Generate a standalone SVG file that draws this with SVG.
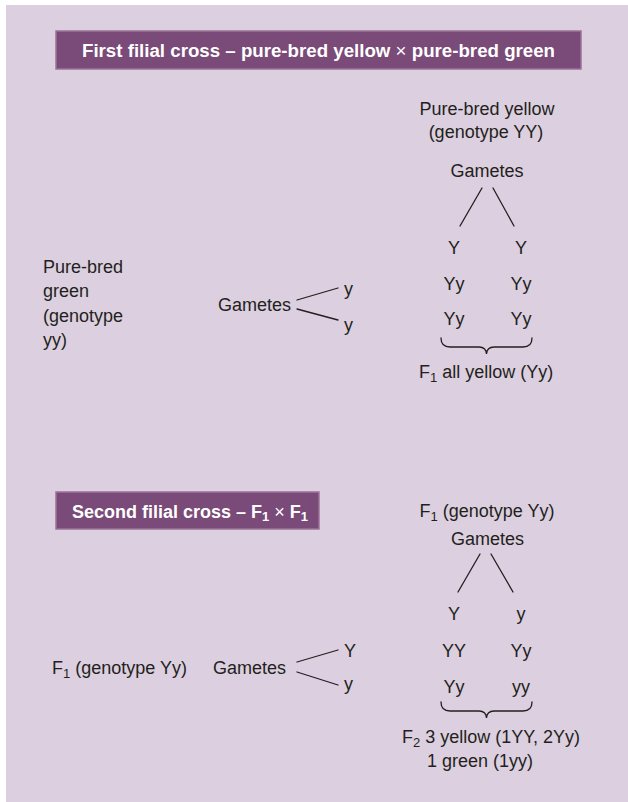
<svg xmlns="http://www.w3.org/2000/svg" width="628" height="802" viewBox="0 0 628 802">
<style>
.t{font-family:"Liberation Sans",Arial,sans-serif;font-size:18px;fill:#231f20}
.m{text-anchor:middle}
.h{font-family:"Liberation Sans",Arial,sans-serif;font-size:18.7px;font-weight:bold;fill:#ffffff}
.h2{font-size:18px}
.box{fill:#7a4a78;stroke:#9c7399;stroke-width:1.5}
.ln{stroke:#231f20;stroke-width:1.3;fill:none;stroke-linecap:round}
.sub{font-size:13px}
</style>
<rect x="0" y="0" width="628" height="802" fill="#ffffff"/>
<rect x="6" y="5" width="622" height="797" fill="#dccfdf"/>

<g id="title1">
<rect class="box" x="56" y="31" width="525" height="38"/>
<text class="h m" x="318.5" y="56.5">First filial cross – pure-bred yellow <tspan font-weight="normal">×</tspan> pure-bred green</text>
</g>

<g id="yellow-parent">
<text class="t m" x="487" y="115">Pure-bred yellow</text>
<text class="t m" x="486" y="138">(genotype YY)</text>
<text class="t m" x="487" y="177">Gametes</text>
</g>

<g id="yellow-gametes">
<text class="t m" x="454" y="254">Y</text>
<text class="t m" x="521" y="254">Y</text>
</g>

<g id="f1-offspring">
<text class="t m" x="454" y="290">Yy</text>
<text class="t m" x="521" y="290">Yy</text>
<text class="t m" x="454" y="325">Yy</text>
<text class="t m" x="521" y="325">Yy</text>
<text class="t" x="419" y="378">F<tspan class="sub" dy="4">1</tspan><tspan dy="-4"> all yellow (Yy)</tspan></text>
</g>

<g id="green-parent">
<text class="t" x="43" y="273">Pure-bred</text>
<text class="t" x="43" y="297">green</text>
<text class="t" x="43" y="322">(genotype</text>
<text class="t" x="43" y="346">yy)</text>
<text class="t" x="218" y="311">Gametes</text>
<text class="t" x="344" y="295">y</text>
<text class="t" x="344" y="331">y</text>
</g>

<g id="title2">
<rect class="box" x="56" y="492" width="263" height="37"/>
<text class="h h2" x="72" y="518">Second filial cross – F<tspan class="sub" dy="3">1</tspan><tspan dy="-3" font-weight="normal"> × </tspan>F<tspan class="sub" dy="3">1</tspan></text>
</g>

<g id="f1-parent-right">
<text class="t m" x="487" y="517">F<tspan class="sub" dy="4">1</tspan><tspan dy="-4"> (genotype Yy)</tspan></text>
<text class="t m" x="487.5" y="545">Gametes</text>
</g>

<g id="f1-gametes-right">
<text class="t m" x="454" y="620">Y</text>
<text class="t m" x="521" y="620">y</text>
</g>

<g id="f2-offspring">
<text class="t m" x="454" y="657">YY</text>
<text class="t m" x="521" y="657">Yy</text>
<text class="t m" x="454" y="693">Yy</text>
<text class="t m" x="521" y="693">yy</text>
<text class="t m" x="491" y="743">F<tspan class="sub" dy="4">2</tspan><tspan dy="-4"> 3 yellow (1YY, 2Yy)</tspan></text>
<text class="t m" x="480" y="767">1 green (1yy)</text>
</g>

<g id="f1-parent-left">
<text class="t" x="52" y="674">F<tspan class="sub" dy="4">1</tspan><tspan dy="-4"> (genotype Yy)</tspan></text>
<text class="t" x="213" y="674">Gametes</text>
<text class="t" x="344" y="657">Y</text>
<text class="t" x="344" y="690">y</text>
</g>

<g id="connectors">
<line class="ln" x1="482" y1="188" x2="460" y2="226"/>
<line class="ln" x1="493" y1="188" x2="514" y2="226"/>
<path class="ln" d="M441,338 Q441,347 450,347 L479,347 Q486,347 486.5,354 Q487,347 494,347 L523,347 Q532,347 532,338"/>
<line class="ln" x1="297" y1="300" x2="338" y2="288"/>
<line class="ln" x1="297" y1="309" x2="338" y2="320"/>
<line class="ln" x1="480" y1="554" x2="458" y2="592"/>
<line class="ln" x1="491" y1="554" x2="513" y2="592"/>
<path class="ln" d="M441,702 Q441,711 450,711 L479,711 Q486,711 486.5,718 Q487,711 494,711 L523,711 Q532,711 532,702"/>
<line class="ln" x1="297" y1="662" x2="338" y2="650"/>
<line class="ln" x1="297" y1="672" x2="338" y2="685"/>
</g>
</svg>
